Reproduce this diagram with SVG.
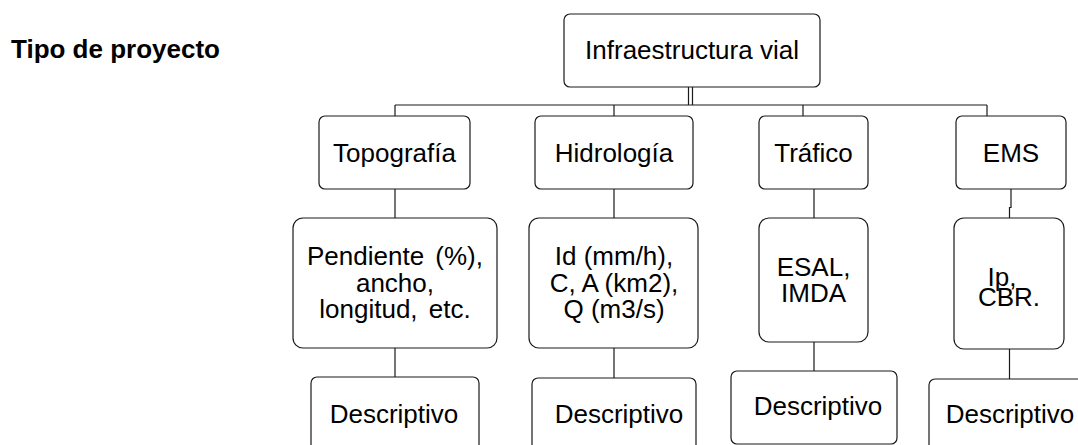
<svg xmlns="http://www.w3.org/2000/svg" width="1078" height="445" viewBox="0 0 1078 445">
<style>
.box{fill:#fff;stroke:#1a1a1a;stroke-width:1.2}
.t{font-family:"Liberation Sans",Arial,sans-serif;font-size:26px;fill:#000;text-anchor:middle}
.lbl{font-family:"Liberation Sans",Arial,sans-serif;font-size:26px;font-weight:bold;fill:#000}
.c{fill:none;stroke:#1a1a1a;stroke-width:1.2}
</style>
<rect width="1078" height="445" fill="#fff"/>
<text class="lbl" x="11" y="58">Tipo de proyecto</text>
<g id="connectors">
<path class="c" d="M688.5,87V105M692.5,87V105"/>
<path class="c" d="M395,105H987"/>
<path class="c" d="M395,105V116M614,105V116M803,105V116M987,105V116"/>
<path class="c" d="M395,189V218M614,189V218M814,189V218M1011,189V207.5H1009.5V218"/>
<path class="c" d="M395,348V377M614,348V378M814,342V371M1009.5,349V379"/>
</g>
<g id="n-root"><rect class="box" x="564" y="14" width="256" height="73" rx="6"/><text class="t" x="692" y="59">Infraestructura vial</text></g>
<g id="n-topo"><rect class="box" x="319" y="116" width="151" height="73" rx="6"/><text class="t" x="394.5" y="162">Topografía</text></g>
<g id="n-hidro"><rect class="box" x="535" y="116" width="158" height="73" rx="6"/><text class="t" x="614" y="162">Hidrología</text></g>
<g id="n-traf"><rect class="box" x="759" y="116" width="109" height="73" rx="6"/><text class="t" x="813.5" y="162">Tráfico</text></g>
<g id="n-ems"><rect class="box" x="956" y="116" width="110" height="73" rx="6"/><text class="t" x="1011" y="162">EMS</text></g>
<g id="n-pend"><rect class="box" x="293" y="218" width="204" height="130" rx="10"/><text class="t" x="395" y="265" word-spacing="4">Pendiente (%),</text><text class="t" x="395" y="291.5">ancho,</text><text class="t" x="395" y="318" word-spacing="4">longitud, etc.</text></g>
<g id="n-id"><rect class="box" x="529" y="218" width="169" height="130" rx="10"/><text class="t" x="614" y="265">Id (mm/h),</text><text class="t" x="614" y="291.5">C, A (km2),</text><text class="t" x="614" y="318">Q (m3/s)</text></g>
<g id="n-esal"><rect class="box" x="759" y="218" width="109" height="124" rx="10"/><text class="t" x="813.5" y="276">ESAL,</text><text class="t" x="813.5" y="301.5">IMDA</text></g>
<g id="n-ip"><rect class="box" x="954" y="218" width="110" height="131" rx="10"/><text class="t" x="1002" y="286">Ip,</text><text class="t" x="1009" y="306">CBR.</text></g>
<g id="n-d1"><rect class="box" x="311" y="377" width="168" height="80" rx="6"/><text class="t" x="394" y="423">Descriptivo</text></g>
<g id="n-d2"><rect class="box" x="532" y="378" width="164" height="80" rx="6"/><text class="t" x="619" y="423">Descriptivo</text></g>
<g id="n-d3"><rect class="box" x="731" y="371" width="166" height="73" rx="6"/><text class="t" x="818" y="415">Descriptivo</text></g>
<g id="n-d4"><rect class="box" x="929" y="379" width="170" height="80" rx="6"/><text class="t" x="1010" y="423">Descriptivo</text></g>
</svg>
